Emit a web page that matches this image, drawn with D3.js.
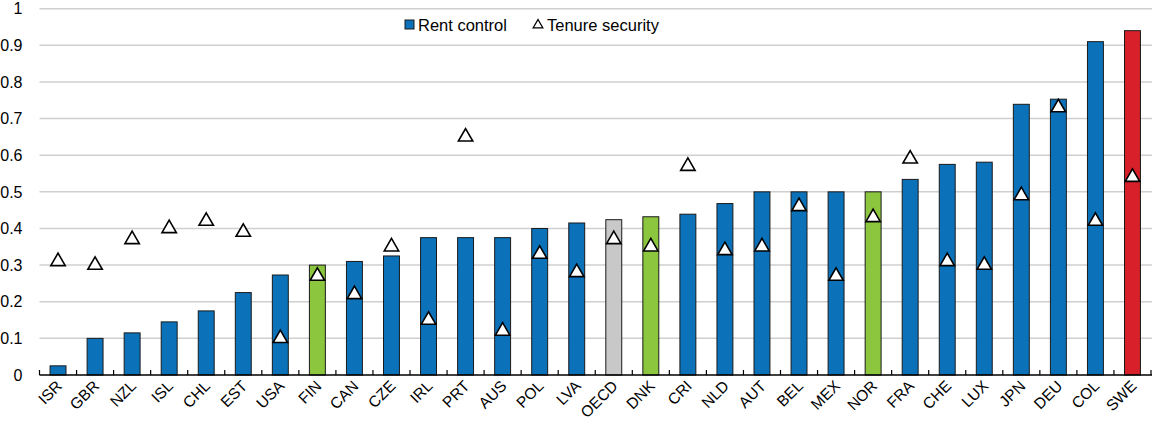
<!DOCTYPE html>
<html>
<head>
<meta charset="utf-8">
<script src="https://cdn.jsdelivr.net/npm/d3@7"></script>
<style>
  body { margin: 0; background: #fff; }
  text { font-family: "Liberation Sans", Arial, sans-serif; fill: #000; }
</style>
</head>
<body>
<div id="chart"></div>
<script>
var countries = ["ISR","GBR","NZL","ISL","CHL","EST","USA","FIN","CAN","CZE","IRL","PRT","AUS","POL","LVA","OECD","DNK","CRI","NLD","AUT","BEL","MEX","NOR","FRA","CHE","LUX","JPN","DEU","COL","SWE"];
var rentControl = [0.025,0.10,0.115,0.145,0.175,0.225,0.273,0.30,0.31,0.325,0.375,0.375,0.375,0.40,0.415,0.424,0.432,0.439,0.468,0.50,0.50,0.50,0.50,0.534,0.575,0.581,0.739,0.753,0.91,0.94];
var tenureSecurity = [0.31,0.30,0.37,0.40,0.42,0.39,0.10,0.27,0.22,0.35,0.15,0.65,0.12,0.33,0.28,0.37,0.35,0.57,0.34,0.35,0.46,0.27,0.43,0.59,0.31,0.30,0.49,0.73,0.42,0.54];
var greenOnes = ["FIN","DNK","NOR"];
var yTicks = [0,0.1,0.2,0.3,0.4,0.5,0.6,0.7,0.8,0.9,1];

var width = 1152, height = 423;
var margin = {top: 8.7, right: 1, bottom: 48, left: 39.5};

var svg = d3.select("#chart").append("svg")
	.attr("width", width)
	.attr("height", height);

var x = d3.scaleBand()
	.domain(countries)
	.range([margin.left, width - margin.right])
	.paddingInner(0.57)
	.paddingOuter(0.285);

var y = d3.scaleLinear()
	.domain([0, 1])
	.range([height - margin.bottom, margin.top]);

function barColor(c) {
	if (c == "SWE") return "#d7202a";
	if (c == "OECD") return "#c8c8c8";
	if (greenOnes.indexOf(c) > -1) return "#8cc63f";
	return "#0b72ba";
}

// gridlines
svg.append("g").selectAll("line")
	.data(yTicks.slice(1))
	.enter().append("line")
	.attr("x1", margin.left)
	.attr("x2", width)
	.attr("y1", function(d){ return y(d); })
	.attr("y2", function(d){ return y(d); })
	.attr("stroke", "#cfcfcf")
	.attr("stroke-width", 1.5);

// y labels
svg.append("g").selectAll("text")
	.data(yTicks)
	.enter().append("text")
	.attr("x", 22.5)
	.attr("y", function(d){ return y(d) + 5.7; })
	.attr("text-anchor", "end")
	.style("font-size", "16px")
	.text(function(d){ return d; });

// bars
svg.append("g").selectAll("rect")
	.data(countries)
	.enter().append("rect")
	.attr("x", function(d){ return x(d); })
	.attr("width", x.bandwidth())
	.attr("y", function(d, i){ return y(rentControl[i]); })
	.attr("height", function(d, i){ return y(0) - y(rentControl[i]); })
	.attr("fill", barColor)
	.attr("stroke", "#1a1a1a")
	.attr("stroke-width", 1);

// x axis, ticks sit between the categories
var step = x.step();
var axis = svg.append("g");
axis.append("line")
	.attr("x1", margin.left).attr("x2", width)
	.attr("y1", y(0)).attr("y2", y(0))
	.attr("stroke", "#000").attr("stroke-width", 1.5);
axis.selectAll(".tick")
	.data(countries.concat(["end"]))
	.enter().append("line")
	.attr("x1", function(d, i){ return margin.left + i * step; })
	.attr("x2", function(d, i){ return margin.left + i * step; })
	.attr("y1", y(0))
	.attr("y2", y(0) - 5)
	.attr("stroke", "#000")
	.attr("stroke-width", 1.2);

axis.selectAll(".lab")
	.data(countries)
	.enter().append("text")
	.attr("text-anchor", "end")
	.style("font-size", "15.5px")
	.attr("transform", function(d){
		return "translate(" + (x(d) + x.bandwidth() / 2 + 5) + "," + (y(0) + 12) + ") rotate(-45)";
	})
	.text(function(d){ return d; });

// triangles
var tri = d3.symbol().type(d3.symbolTriangle).size(90);
svg.append("g").selectAll("path")
	.data(countries)
	.enter().append("path")
	.attr("d", tri)
	.attr("transform", function(d, i){
		return "translate(" + (x(d) + x.bandwidth() / 2) + "," + y(tenureSecurity[i]) + ")";
	})
	.attr("fill", "#fff")
	.attr("stroke", "#000")
	.attr("stroke-width", 1.6);

// legend
var leg = svg.append("g");
leg.append("rect")
	.attr("x", 405).attr("y", 20).attr("width", 9).attr("height", 9)
	.attr("fill", "#0b72ba").attr("stroke", "#1a1a1a").attr("stroke-width", 1);
leg.append("text")
	.attr("x", 418).attr("y", 31)
	.style("font-size", "16.5px")
	.text("Rent control");
leg.append("path")
	.attr("d", d3.symbol().type(d3.symbolTriangle).size(40))
	.attr("transform", "translate(538,25)")
	.attr("fill", "#fff").attr("stroke", "#000").attr("stroke-width", 1.3);
leg.append("text")
	.attr("x", 547).attr("y", 31)
	.style("font-size", "16.5px")
	.text("Tenure security");
</script>
</body>
</html>
